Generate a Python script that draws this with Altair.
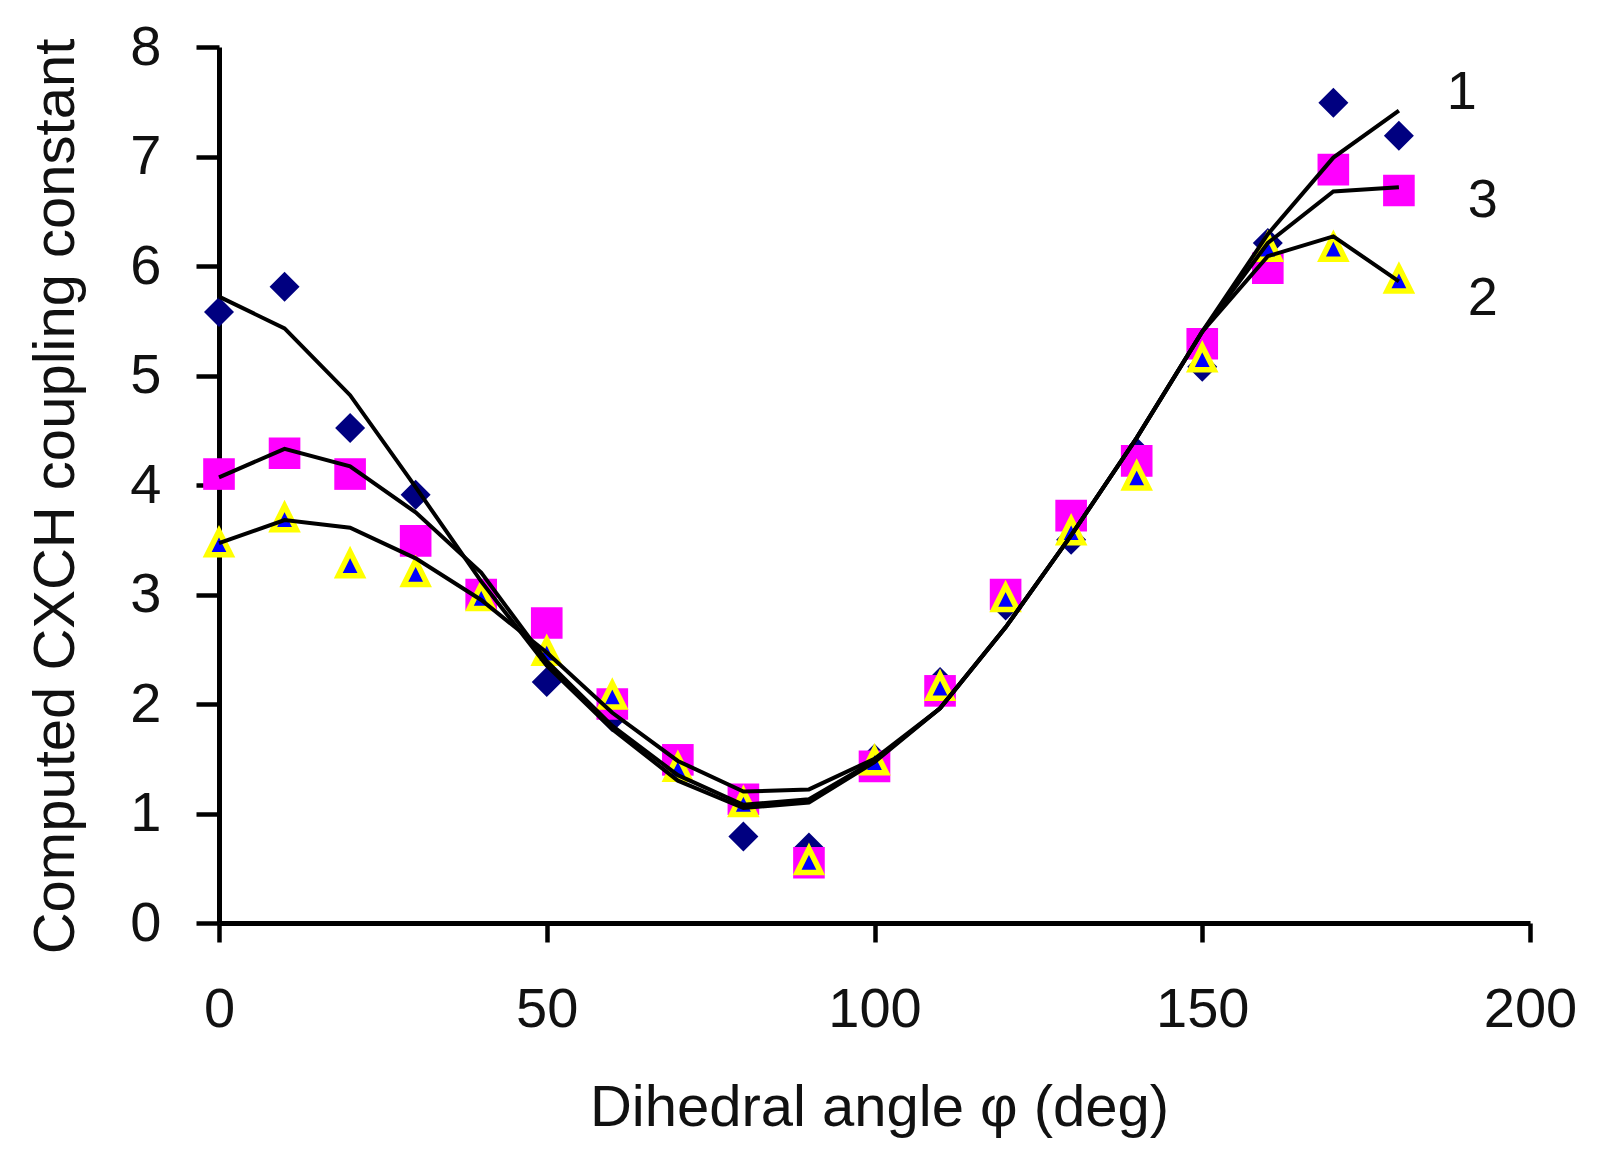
import pandas as pd
import altair as alt

# dihedral angle (deg)
angles = [0, 10, 20, 30, 40, 50, 60, 70, 80, 90, 100, 110, 120, 130, 140, 150, 160, 170, 180]

# computed points
j_diamond = [5.58, 5.81, 4.52, 3.91, 3.0, 2.2, 1.88, 1.45, 0.79, 0.69, 1.5, 2.2, 2.9, 3.5, 4.3, 5.08, 6.21, 7.49, 7.19]
j_square = [4.10, 4.29, 4.10, 3.49, 3.0, 2.74, 2.0, 1.49, 1.13, 0.55, 1.43, 2.12, 3.0, 3.72, 4.22, 5.29, 5.98, 6.88, 6.69]
j_triangle = [3.47, 3.70, 3.28, 3.2, 2.98, 2.48, 2.08, 1.42, 1.10, 0.57, 1.48, 2.16, 2.97, 3.58, 4.08, 5.16, 6.17, 6.17, 5.88]

# fitted curves
fit_1 = [5.72, 5.43, 4.82, 3.98, 3.12, 2.35, 1.77, 1.30, 1.05, 1.10, 1.47, 1.96, 2.70, 3.54, 4.43, 5.40, 6.29, 6.99, 7.42]
fit_3 = [4.07, 4.33, 4.17, 3.75, 3.20, 2.39, 1.80, 1.35, 1.08, 1.13, 1.48, 1.96, 2.70, 3.54, 4.43, 5.40, 6.21, 6.68, 6.72]
fit_2 = [3.47, 3.68, 3.61, 3.33, 2.95, 2.47, 1.92, 1.48, 1.20, 1.22, 1.50, 1.96, 2.70, 3.54, 4.43, 5.40, 6.09, 6.27, 5.86]

curve_names = ["1", "3", "2"]
label_x = [189.6, 192.8, 192.8]
label_y = [7.58, 6.59, 5.70]

font = "Liberation Sans"

pts = pd.DataFrame({"angle": angles, "d": j_diamond, "s": j_square, "t": j_triangle})
fits = pd.DataFrame({
    "angle": angles * 3,
    "J": fit_1 + fit_3 + fit_2,
    "curve": [c for c in curve_names for _ in angles],
})
labels = pd.DataFrame({"x": label_x, "y": label_y, "name": curve_names})

x_scale = alt.Scale(domain=[0, 200], nice=False, zero=False)
y_scale = alt.Scale(domain=[0, 8], nice=False)

x_axis = alt.Axis(
    values=[0, 50, 100, 150, 200], title="Dihedral angle φ (deg)", grid=False,
    domainColor="black", domainWidth=5, tickColor="black", tickWidth=4.5, tickSize=19,
    labelFont=font, labelFontSize=56, labelColor="#111", labelPadding=40, labelFlush=False,
    titleFont=font, titleFontSize=58, titleFontWeight="normal", titleColor="#111",
    titleX=660, titleY=156, titleBaseline="top", titleAlign="center",
)
y_axis = alt.Axis(
    values=[0, 1, 2, 3, 4, 5, 6, 7, 8], title="Computed CXCH coupling constant", grid=False,
    domainColor="black", domainWidth=5, tickColor="black", tickWidth=4.5, tickSize=23,
    labelFont=font, labelFontSize=56, labelColor="#111", labelPadding=35,
    titleFont=font, titleFontSize=58, titleFontWeight="normal", titleColor="#111",
    titleX=-192, titleY=449, titleBaseline="top", titleAlign="center",
)

diamonds = alt.Chart(pts).mark_point(
    shape="diamond", filled=True, size=900, color="#000080", opacity=1
).encode(
    x=alt.X("angle:Q", scale=x_scale, axis=x_axis),
    y=alt.Y("d:Q", scale=y_scale, axis=y_axis),
)

squares = alt.Chart(pts).mark_point(
    shape="square", filled=True, size=1000, color="#FF00FF", opacity=1
).encode(
    x=alt.X("angle:Q", scale=x_scale, axis=x_axis),
    y=alt.Y("s:Q", scale=y_scale, axis=y_axis),
)

triangles = alt.Chart(pts).mark_point(
    shape="M0,-1L1,1L-1,1Z", filled=True, size=560, fill="#0000FF",
    stroke="#FFFF00", strokeWidth=5.5, opacity=1, strokeOpacity=1
).encode(
    x=alt.X("angle:Q", scale=x_scale, axis=x_axis),
    y=alt.Y("t:Q", scale=y_scale, axis=y_axis),
)

lines = alt.Chart(fits).mark_line(color="black", strokeWidth=4).encode(
    x=alt.X("angle:Q", scale=x_scale, axis=x_axis),
    y=alt.Y("J:Q", scale=y_scale, axis=y_axis),
    detail="curve:N",
)

texts = alt.Chart(labels).mark_text(
    font=font, fontSize=54, color="#111", align="center", baseline="middle"
).encode(
    x=alt.X("x:Q", scale=x_scale, axis=x_axis),
    y=alt.Y("y:Q", scale=y_scale, axis=y_axis),
    text="name:N",
)

chart = (
    alt.layer(diamonds, squares, triangles, lines, texts)
    .properties(
        width=1311,
        height=876,
        autosize=alt.AutoSizeParams(type="none"),
        padding={"left": 211, "top": 39, "right": 72, "bottom": 227},
        background="white",
    )
    .configure_view(stroke=None)
)

chart.save("out.html", embed_options={"renderer": "svg", "actions": False})
